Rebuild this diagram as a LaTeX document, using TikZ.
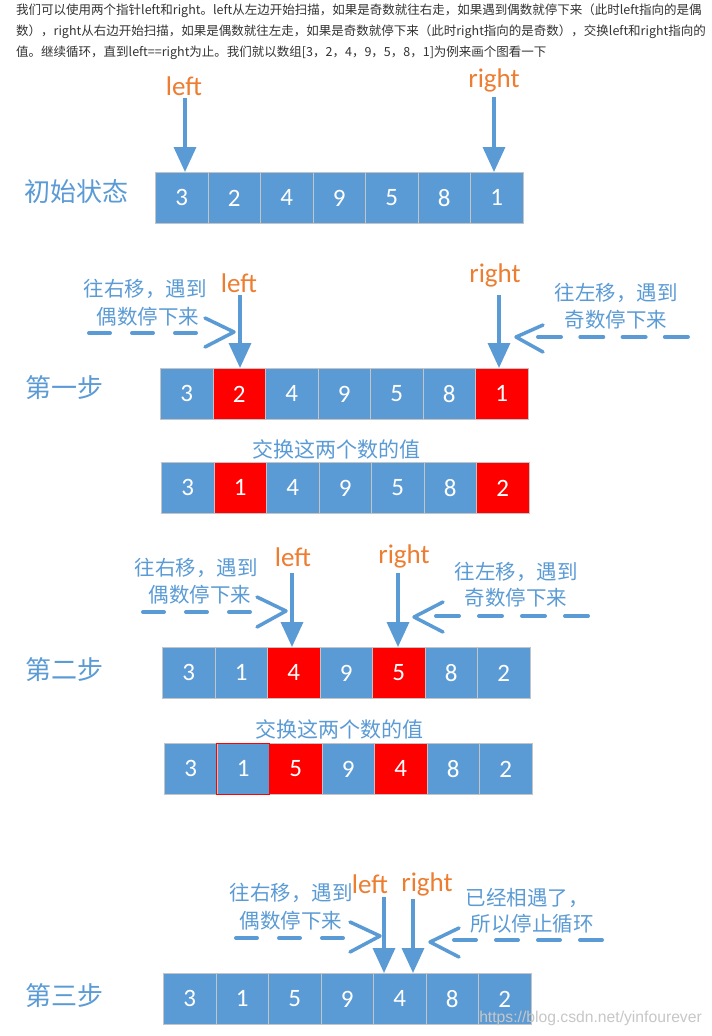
\documentclass[tikz,border=0pt]{standalone}
\usepackage{fontspec}
\setmainfont{Carlito}
\newfontfamily\cjk{Noto Sans CJK SC}
\newfontfamily\wmfont{Liberation Sans}
\usetikzlibrary{arrows.meta,backgrounds}
\definecolor{cb}{HTML}{5B9BD5}
\definecolor{cr}{HTML}{FF0000}
\definecolor{co}{HTML}{ED7D31}
\definecolor{cg}{HTML}{C4C4C4}
\definecolor{ctxt}{HTML}{333333}
\newcommand\drawrow[4]{%
  \foreach \v/\c [count=\i] in {#4} {
    \node[cell, fill=\c] (#1\i) at ({#2+(\i-1)*52.5}, #3) {\v};
  }
  \begin{pgfonlayer}{background}
    \fill[cb!30, opacity=0.25] ({#2-3}, {#3+10}) rectangle ({#2+7*52.5+3}, {#3+59});
    \fill[cb!30, opacity=0.25] ({#2-1}, {#3+10}) rectangle ({#2+7*52.5+1}, {#3+56});
  \end{pgfonlayer}
}
\begin{document}
\begin{tikzpicture}[x=1pt,y=-1pt,
  cell/.style={draw=cg, line width=0.8pt, minimum width=52.5pt, minimum height=51pt,
    inner sep=0pt, anchor=north west, text=white, font=\fontsize{25}{25}\selectfont},
  steplbl/.style={font=\cjk\fontsize{26}{26}\selectfont, text=cb, inner sep=0pt},
  ptr/.style={font=\fontsize{27}{27}\selectfont, text=co, inner sep=0pt},
  note/.style={font=\cjk\fontsize{20.5}{20.5}\selectfont, text=cb, inner sep=0pt},
  toptext/.style={anchor=west, font=\cjk\fontsize{12.5}{12.5}\selectfont, text=ctxt, inner sep=0pt},
  parrow/.style={draw=cb, line width=3.5pt, -{Triangle[length=25pt,width=22pt]}},
  dashln/.style={draw=cb, line width=4pt, line cap=round},
  chev/.style={draw=cb, line width=3.5pt, line cap=round, line join=round},
]
\fill[white] (0,0) rectangle (712,1036);
\useasboundingbox (0,0) rectangle (712,1036);

% top paragraph
\node[toptext] (t1) at (16,11) {我们可以使用两个指针left和right。left从左边开始扫描，如果是奇数就往右走，如果遇到偶数就停下来（此时left指向的是偶};
\node[toptext] (t2) at (16,32) {数），right从右边开始扫描，如果是偶数就往左走，如果是奇数就停下来（此时right指向的是奇数），交换left和right指向的};
\node[toptext] (t3) at (16,53) {值。继续循环，直到left==right为止。我们就以数组[3，2，4，9，5，8，1]为例来画个图看一下};

% ---------- initial state ----------
\node[steplbl] (s0) at (76,192) {初始状态};
\drawrow{a}{155}{172}{3/cb,2/cb,4/cb,9/cb,5/cb,8/cb,1/cb}
\node[ptr] (a0l) at (184,86) {left};
\node[ptr] (a0r) at (494,80) {right};
\coordinate (a0lt) at (185,98);
\coordinate (a0rt) at (494,97);
\draw[parrow] (a0lt) -- (a0lt |- a1.north);
\draw[parrow] (a0rt) -- (a0rt |- a7.north);

% ---------- step 1 ----------
\node[steplbl] (s1) at (64,388) {第一步};
\drawrow{b}{160}{368}{3/cb,2/cr,4/cb,9/cb,5/cb,8/cb,1/cr}
\node[ptr] (b0l) at (239,283) {left};
\node[ptr] (b0r) at (495,275) {right};
\coordinate (b0lt) at (240,295);
\coordinate (b0rt) at (499,295);
\draw[parrow] (b0lt) -- (b0lt |- b2.north);
\draw[parrow] (b0rt) -- (b0rt |- b7.north);
\node[note] (b1n1) at (145,289) {往右移，遇到};
\node[note] (b1n2) at (148,317) {偶数停下来};
\node[note] (b1n3) at (616,293) {往左移，遇到};
\node[note] (b1n4) at (616,320) {奇数停下来};
\coordinate (b1d1) at (89,333); \coordinate (b1d2) at (200,333);
\draw[dashln, dash pattern=on 21pt off 22pt] (b1d1) -- (b1d2);
\coordinate (b1c1) at (205,318); \coordinate (b1c2) at (234,332); \coordinate (b1c3) at (205,347);
\draw[chev] (b1c1) -- (b1c2) -- (b1c3);
\coordinate (b1e1) at (538,337); \coordinate (b1e2) at (689,337);
\draw[dashln, dash pattern=on 23pt off 19.3pt] (b1e1) -- (b1e2);
\coordinate (b1f1) at (543,325); \coordinate (b1f2) at (516,337); \coordinate (b1f3) at (543,352);
\draw[chev] (b1f1) -- (b1f2) -- (b1f3);

% swap 1
\node[note, font=\cjk\fontsize{21}{21}\selectfont] (sw1) at (336,449) {交换这两个数的值};
\drawrow{c}{161}{462}{3/cb,1/cr,4/cb,9/cb,5/cb,8/cb,2/cr}

% ---------- step 2 ----------
\node[steplbl] (s2) at (64,670) {第二步};
\drawrow{d}{162}{647}{3/cb,1/cb,4/cr,9/cb,5/cr,8/cb,2/cb}
\node[ptr] (d0l) at (293,557) {left};
\node[ptr] (d0r) at (404,556) {right};
\coordinate (d0lt) at (292,573);
\coordinate (d0rt) at (398,573);
\draw[parrow] (d0lt) -- (d0lt |- d3.north);
\draw[parrow] (d0rt) -- (d0rt |- d5.north);
\node[note] (d1n1) at (196,568) {往右移，遇到};
\node[note] (d1n2) at (200,595) {偶数停下来};
\node[note] (d1n3) at (516,572) {往左移，遇到};
\node[note] (d1n4) at (516,598) {奇数停下来};
\coordinate (d1d1) at (143,612); \coordinate (d1d2) at (252,612);
\draw[dashln, dash pattern=on 21pt off 22pt] (d1d1) -- (d1d2);
\coordinate (d1c1) at (257,597); \coordinate (d1c2) at (286,611); \coordinate (d1c3) at (257,627);
\draw[chev] (d1c1) -- (d1c2) -- (d1c3);
\coordinate (d1e1) at (436,616); \coordinate (d1e2) at (589,616);
\draw[dashln, dash pattern=on 23pt off 20pt] (d1e1) -- (d1e2);
\coordinate (d1f1) at (443,602); \coordinate (d1f2) at (414,617); \coordinate (d1f3) at (443,632);
\draw[chev] (d1f1) -- (d1f2) -- (d1f3);

% swap 2
\node[note, font=\cjk\fontsize{21}{21}\selectfont] (sw2) at (339,729) {交换这两个数的值};
\drawrow{e}{164}{743}{3/cb,1/cb,5/cr,9/cb,4/cr,8/cb,2/cb}
\draw[cr, line width=0.8pt] (e2.north west) rectangle (e2.south east);

% ---------- step 3 ----------
\node[steplbl] (s3) at (64,996) {第三步};
\drawrow{f}{163}{973}{3/cb,1/cb,5/cb,9/cb,4/cb,8/cb,2/cb}
\node[ptr] (f0l) at (370,884) {left};
\node[ptr] (f0r) at (427,884) {right};
\coordinate (f0lt) at (384,897);
\coordinate (f0rt) at (413,899);
\draw[parrow] (f0lt) -- (f0lt |- f5.north);
\draw[parrow] (f0rt) -- (f0rt |- f5.north);
\node[note] (f1n1) at (291,893) {往右移，遇到};
\node[note] (f1n2) at (291,921) {偶数停下来};
\node[note] (f1n3) at (527,898) {已经相遇了，};
\node[note] (f1n4) at (532,924) {所以停止循环};
\coordinate (f1d1) at (236,938); \coordinate (f1d2) at (345,938);
\draw[dashln, dash pattern=on 21pt off 22pt] (f1d1) -- (f1d2);
\coordinate (f1c1) at (350,922); \coordinate (f1c2) at (380,936); \coordinate (f1c3) at (350,952);
\draw[chev] (f1c1) -- (f1c2) -- (f1c3);
\coordinate (f1e1) at (454,940); \coordinate (f1e2) at (602,940);
\draw[dashln, dash pattern=on 22pt off 20pt] (f1e1) -- (f1e2);
\coordinate (f1f1) at (459,928); \coordinate (f1f2) at (430,942); \coordinate (f1f3) at (459,957);
\draw[chev] (f1f1) -- (f1f2) -- (f1f3);

% watermark
\node[anchor=east, font=\wmfont\fontsize{15.7}{15.7}\selectfont, text=black!22, inner sep=0pt] (wm) at (702,1018) {https://blog.csdn.net/yinfourever};
\end{tikzpicture}
\end{document}
